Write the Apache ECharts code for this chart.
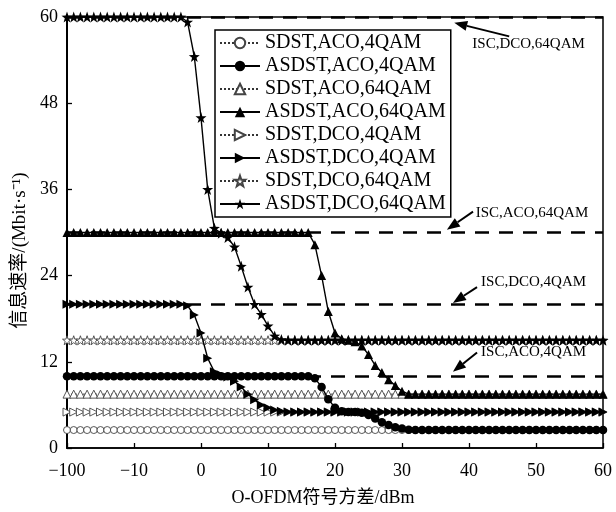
<!DOCTYPE html>
<html>
<head>
<meta charset="utf-8">
<script src="https://cdn.jsdelivr.net/npm/echarts@6/dist/echarts.min.js"></script>
<style>
  html, body { margin: 0; padding: 0; background: #fff; }
  #main { width: 616px; height: 512px; }
</style>
</head>
<body>
<div id="main"></div>
<script>
// sweep points: -100 .. -19 squeezed into the first tick interval, then 1 dB steps
const xCats = [
  '-100', '-91', '-82', '-73', '-64', '-55', '-46', '-37', '-28', '-19',
  '-10', '-9', '-8', '-7', '-6', '-5', '-4', '-3', '-2', '-1',
  '0', '1', '2', '3', '4', '5', '6', '7', '8', '9',
  '10', '11', '12', '13', '14', '15', '16', '17', '18', '19',
  '20', '21', '22', '23', '24', '25', '26', '27', '28', '29',
  '30', '31', '32', '33', '34', '35', '36', '37', '38', '39',
  '40', '41', '42', '43', '44', '45', '46', '47', '48', '49',
  '50', '51', '52', '53', '54', '55', '56', '57', '58', '59',
  '60'
];

const sdstAco4 = [
  2.5, 2.5, 2.5, 2.5, 2.5, 2.5, 2.5, 2.5, 2.5, 2.5,
  2.5, 2.5, 2.5, 2.5, 2.5, 2.5, 2.5, 2.5, 2.5, 2.5,
  2.5, 2.5, 2.5, 2.5, 2.5, 2.5, 2.5, 2.5, 2.5, 2.5,
  2.5, 2.5, 2.5, 2.5, 2.5, 2.5, 2.5, 2.5, 2.5, 2.5,
  2.5, 2.5, 2.5, 2.5, 2.5, 2.5, 2.5, 2.5, 2.5, 2.5,
  2.5, 2.5, 2.5, 2.5, 2.5, 2.5, 2.5, 2.5, 2.5, 2.5,
  2.5, 2.5, 2.5, 2.5, 2.5, 2.5, 2.5, 2.5, 2.5, 2.5,
  2.5, 2.5, 2.5, 2.5, 2.5, 2.5, 2.5, 2.5, 2.5, 2.5,
  2.5
];
const asdstAco4 = [
  10, 10, 10, 10, 10, 10, 10, 10, 10, 10,
  10, 10, 10, 10, 10, 10, 10, 10, 10, 10,
  10, 10, 10, 10, 10, 10, 10, 10, 10, 10,
  10, 10, 10, 10, 10, 10, 10, 9.7, 8.5, 6.8,
  5.6, 5.1, 5, 5, 4.9, 4.6, 4.1, 3.6, 3.2, 2.9,
  2.7, 2.55, 2.5, 2.5, 2.5, 2.5, 2.5, 2.5, 2.5, 2.5,
  2.5, 2.5, 2.5, 2.5, 2.5, 2.5, 2.5, 2.5, 2.5, 2.5,
  2.5, 2.5, 2.5, 2.5, 2.5, 2.5, 2.5, 2.5, 2.5, 2.5,
  2.5
];
const sdstAco64 = [
  7.5, 7.5, 7.5, 7.5, 7.5, 7.5, 7.5, 7.5, 7.5, 7.5,
  7.5, 7.5, 7.5, 7.5, 7.5, 7.5, 7.5, 7.5, 7.5, 7.5,
  7.5, 7.5, 7.5, 7.5, 7.5, 7.5, 7.5, 7.5, 7.5, 7.5,
  7.5, 7.5, 7.5, 7.5, 7.5, 7.5, 7.5, 7.5, 7.5, 7.5,
  7.5, 7.5, 7.5, 7.5, 7.5, 7.5, 7.5, 7.5, 7.5, 7.5,
  7.5, 7.5, 7.5, 7.5, 7.5, 7.5, 7.5, 7.5, 7.5, 7.5,
  7.5, 7.5, 7.5, 7.5, 7.5, 7.5, 7.5, 7.5, 7.5, 7.5,
  7.5, 7.5, 7.5, 7.5, 7.5, 7.5, 7.5, 7.5, 7.5, 7.5,
  7.5
];
const asdstAco64 = [
  30, 30, 30, 30, 30, 30, 30, 30, 30, 30,
  30, 30, 30, 30, 30, 30, 30, 30, 30, 30,
  30, 30, 30, 30, 30, 30, 30, 30, 30, 30,
  30, 30, 30, 30, 30, 30, 30, 28.3, 24, 19,
  16, 15.2, 15, 14.8, 14.2, 13, 11.5, 10.5, 9.5, 8.7,
  7.9, 7.5, 7.5, 7.5, 7.5, 7.5, 7.5, 7.5, 7.5, 7.5,
  7.5, 7.5, 7.5, 7.5, 7.5, 7.5, 7.5, 7.5, 7.5, 7.5,
  7.5, 7.5, 7.5, 7.5, 7.5, 7.5, 7.5, 7.5, 7.5, 7.5,
  7.5
];
const sdstDco4 = [
  5, 5, 5, 5, 5, 5, 5, 5, 5, 5,
  5, 5, 5, 5, 5, 5, 5, 5, 5, 5,
  5, 5, 5, 5, 5, 5, 5, 5, 5, 5,
  5, 5, 5, 5, 5, 5, 5, 5, 5, 5,
  5, 5, 5, 5, 5, 5, 5, 5, 5, 5,
  5, 5, 5, 5, 5, 5, 5, 5, 5, 5,
  5, 5, 5, 5, 5, 5, 5, 5, 5, 5,
  5, 5, 5, 5, 5, 5, 5, 5, 5, 5,
  5
];
const asdstDco4 = [
  20, 20, 20, 20, 20, 20, 20, 20, 20, 20,
  20, 20, 20, 20, 20, 20, 20, 20, 19.8, 18.5,
  16, 12.5, 10.6, 10.2, 9.9, 9.3, 8.5, 7.5, 6.7, 6.0,
  5.6, 5.3, 5.1, 5, 5, 5, 5, 5, 5, 5,
  5, 5, 5, 5, 5, 5, 5, 5, 5, 5,
  5, 5, 5, 5, 5, 5, 5, 5, 5, 5,
  5, 5, 5, 5, 5, 5, 5, 5, 5, 5,
  5, 5, 5, 5, 5, 5, 5, 5, 5, 5,
  5
];
const sdstDco64 = [
  15, 15, 15, 15, 15, 15, 15, 15, 15, 15,
  15, 15, 15, 15, 15, 15, 15, 15, 15, 15,
  15, 15, 15, 15, 15, 15, 15, 15, 15, 15,
  15, 15, 15, 15, 15, 15, 15, 15, 15, 15,
  15, 15, 15, 15, 15, 15, 15, 15, 15, 15,
  15, 15, 15, 15, 15, 15, 15, 15, 15, 15,
  15, 15, 15, 15, 15, 15, 15, 15, 15, 15,
  15, 15, 15, 15, 15, 15, 15, 15, 15, 15,
  15
];
const asdstDco64 = [
  60, 60, 60, 60, 60, 60, 60, 60, 60, 60,
  60, 60, 60, 60, 60, 60, 60, 60, 59.3, 54.5,
  46, 36, 30.6, 29.9, 29.3, 28, 25.3, 22.4, 20, 18.6,
  17, 15.6, 15.1, 15, 15, 15, 15, 15, 15, 15,
  15, 15, 15, 15, 15, 15, 15, 15, 15, 15,
  15, 15, 15, 15, 15, 15, 15, 15, 15, 15,
  15, 15, 15, 15, 15, 15, 15, 15, 15, 15,
  15, 15, 15, 15, 15, 15, 15, 15, 15, 15,
  15
];

// ISC reference levels (dashed) and their callouts
const iscLevels = [60, 30, 20, 10];
const iscNames = ['ISC,DCO,64QAM', 'ISC,ACO,64QAM', 'ISC,DCO,4QAM', 'ISC,ACO,4QAM'];
// [category index, value]
const iscTail = [[66, 57.3], [60.6, 32.9], [61.2, 22.4], [61.2, 13.3]];
const iscTip = [[57.8, 59.2], [56.7, 30.4], [57.6, 20.2], [57.6, 10.6]];
const iscText = [[60.5, 56.2], [61, 32.7], [61.8, 23.1], [61.8, 13.3]];

const yTicks = [0, 12, 24, 36, 48, 60];

const SERIF = "'Liberation Serif', 'Times New Roman', serif";
const SERIF_CJK = "'Liberation Serif', 'Noto Sans CJK SC', serif";
const STAR = 'path://M0,-10L2.35,-3.24L9.51,-3.09L3.8,1.24L5.88,8.09L0,4L-5.88,8.09L-3.8,1.24L-9.51,-3.09L-2.35,-3.24Z';

function mkSeries(name, data, symbol, size, filled, rotate, z) {
    return {
        name: name,
        type: 'line',
        data: data,
        symbol: symbol,
        symbolSize: size,
        symbolRotate: rotate || 0,
        showAllSymbol: true,
        z: z,
        animation: false,
        lineStyle: {
            color: filled ? '#000' : '#333',
            width: filled ? 1.4 : 1,
            type: filled ? 'solid' : [2, 2]
        },
        itemStyle: {
            color: filled ? '#000' : '#fff',
            borderColor: filled ? '#000' : '#444',
            borderWidth: filled ? 0 : 0.9
        }
    };
}

const chart = echarts.init(document.getElementById('main'), null, { renderer: 'canvas' });

const series = [
    {
        name: 'ISC',
        type: 'line',
        data: [],
        z: 1,
        markLine: {
            silent: true,
            symbol: ['none', 'none'],
            label: { show: false },
            lineStyle: { color: '#000', width: 2.5, type: [14, 10] },
            data: iscLevels.map(v => ({ yAxis: v }))
        }
    },
    mkSeries('SDST,ACO,4QAM', sdstAco4, 'circle', 7, false, 0, 3),
    mkSeries('ASDST,ACO,4QAM', asdstAco4, 'circle', 8.5, true, 0, 5),
    mkSeries('SDST,ACO,64QAM', sdstAco64, 'triangle', 8, false, 0, 3),
    mkSeries('ASDST,ACO,64QAM', asdstAco64, 'triangle', 9, true, 0, 5),
    mkSeries('SDST,DCO,4QAM', sdstDco4, 'triangle', 8, false, -90, 3),
    mkSeries('ASDST,DCO,4QAM', asdstDco4, 'triangle', 9, true, -90, 5),
    mkSeries('SDST,DCO,64QAM', sdstDco64, STAR, 9, false, 0, 3),
    mkSeries('ASDST,DCO,64QAM', asdstDco64, STAR, 11, true, 0, 6)
];

const option = {
    backgroundColor: '#fff',
    animation: false,
    textStyle: { fontFamily: SERIF, color: '#000' },
    grid: {
        left: 67, right: 13, top: 17, bottom: 64,
        show: true, borderColor: '#000', borderWidth: 1.5
    },
    legend: {
        data: series.slice(1).map(s => s.name),
        orient: 'vertical',
        left: 215,
        top: 30,
        padding: [3, 5, 3, 4],
        itemGap: 3,
        itemWidth: 40,
        itemHeight: 13,
        backgroundColor: '#fff',
        borderColor: '#000',
        borderWidth: 1.5,
        borderRadius: 0,
        textStyle: { fontFamily: SERIF, fontSize: 20, color: '#000', lineHeight: 20 }
    },
    xAxis: {
        type: 'category',
        data: xCats,
        boundaryGap: false,
        name: 'O-OFDM符号方差/dBm',
        nameLocation: 'middle',
        nameGap: 41,
        nameTextStyle: { fontFamily: SERIF_CJK, fontSize: 18, color: '#000', padding: [0, 24, 0, 0] },
        axisLine: { lineStyle: { color: '#000', width: 1.5 } },
        axisTick: { inside: true, length: 5, interval: (i) => i % 10 === 0, lineStyle: { color: '#000', width: 1.3 } },
        axisLabel: {
            interval: (i) => i % 10 === 0,
            margin: 14,
            fontSize: 18,
            color: '#000',
            fontFamily: SERIF,
            formatter: (v) => v.replace('-', '\u2212')
        },
        splitLine: { show: false }
    },
    yAxis: {
        type: 'value',
        min: yTicks[0],
        max: yTicks[yTicks.length - 1],
        interval: yTicks[1] - yTicks[0],
        name: '信息速率/(Mbit·s\u207B\u00B9)',
        nameLocation: 'middle',
        nameGap: 36,
        nameTextStyle: { fontFamily: SERIF_CJK, fontSize: 19, color: '#000', padding: [0, 36, 0, 0] },
        axisLine: { show: true, lineStyle: { color: '#000', width: 2 } },
        axisTick: { show: true, inside: true, length: 5, lineStyle: { color: '#000', width: 1.3 } },
        axisLabel: { margin: 9, fontSize: 18, color: '#000', fontFamily: SERIF },
        splitLine: { show: false }
    },
    series: series
};

chart.setOption(option);

// callouts placed through the axes' own pixel mapping
function toPx(i, v) {
    const a = chart.convertToPixel({ gridIndex: 0 }, [0, 0]);
    const b = chart.convertToPixel({ gridIndex: 0 }, [80, 60]);
    return [a[0] + (b[0] - a[0]) * i / 80, a[1] + (b[1] - a[1]) * v / 60];
}

const graphics = [];
iscNames.forEach((name, k) => {
    const t = toPx(iscTail[k][0], iscTail[k][1]);
    const h = toPx(iscTip[k][0], iscTip[k][1]);
    const ang = Math.atan2(h[1] - t[1], h[0] - t[0]);
    const len = 13, half = 5;
    const bx = h[0] - len * Math.cos(ang), by = h[1] - len * Math.sin(ang);
    const nx = -Math.sin(ang) * half, ny = Math.cos(ang) * half;
    graphics.push({
        type: 'line', z: 100,
        shape: { x1: t[0], y1: t[1], x2: bx, y2: by },
        style: { stroke: '#000', lineWidth: 2 }
    });
    graphics.push({
        type: 'polygon', z: 100,
        shape: { points: [[h[0], h[1]], [bx + nx, by + ny], [bx - nx, by - ny]] },
        style: { fill: '#000' }
    });
    const p = toPx(iscText[k][0], iscText[k][1]);
    graphics.push({
        type: 'text', z: 100,
        x: p[0], y: p[1],
        style: {
            text: name, fontFamily: SERIF, fontSize: 15, fill: '#000',
            textAlign: 'left', textVerticalAlign: 'middle'
        }
    });
});
chart.setOption({ graphic: graphics });
</script>
</body>
</html>
